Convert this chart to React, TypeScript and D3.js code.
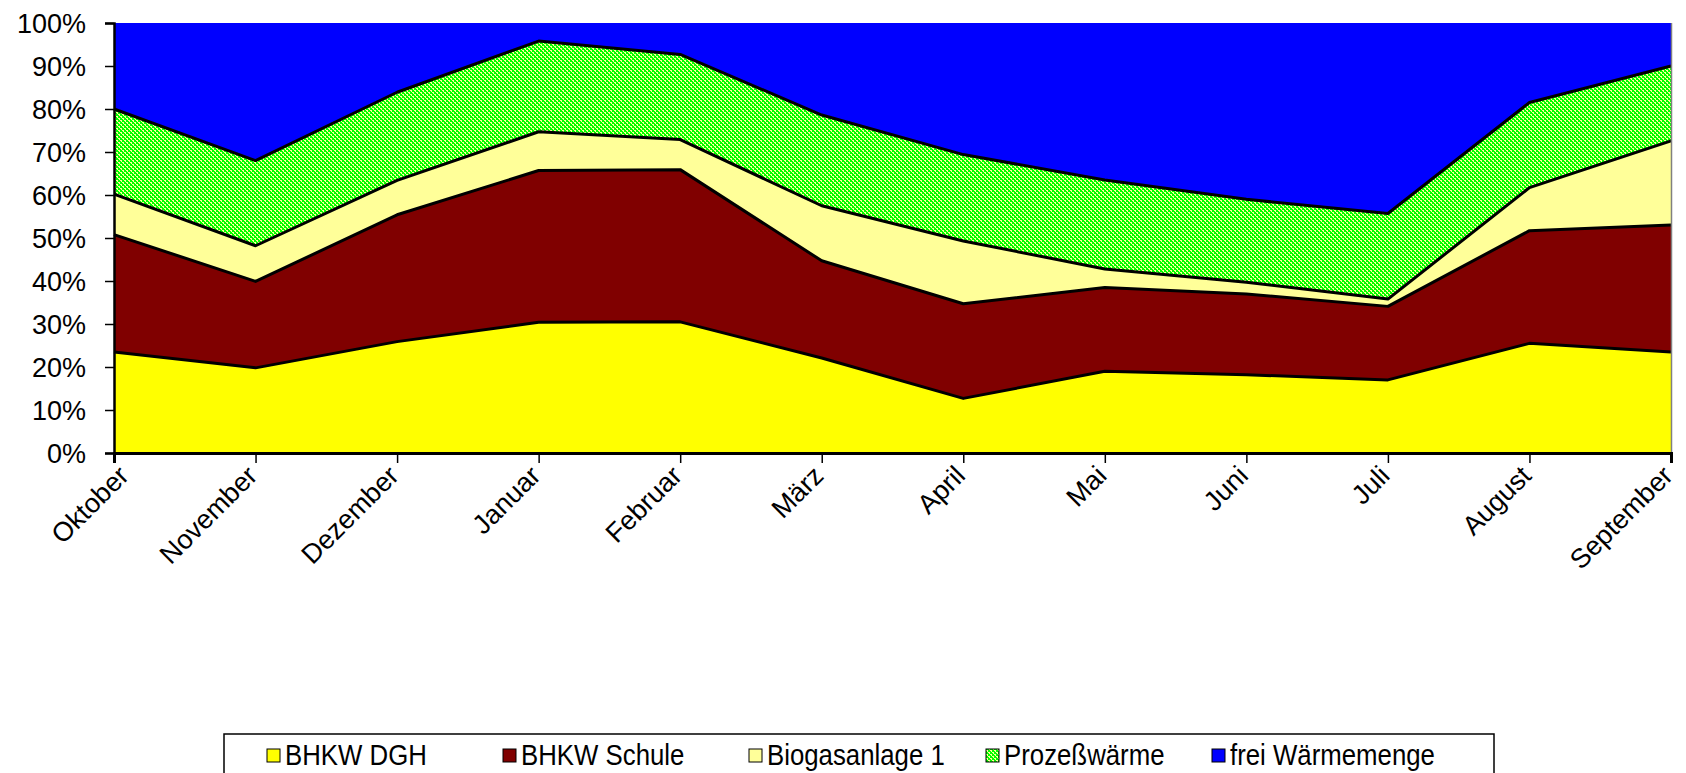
import React, { useEffect, useRef } from 'react';
import * as d3 from 'd3';

// Monatswerte (Anteil an Wärmemenge in %)
const months = ['Oktober', 'November', 'Dezember', 'Januar', 'Februar', 'März', 'April', 'Mai', 'Juni', 'Juli', 'August', 'September'];
const bhkwDgh = [23.5, 19.8, 25.9, 30.4, 30.5, 22.1, 12.7, 19.0, 18.2, 17.0, 25.5, 23.5];
const bhkwSchule = [27.3, 20.1, 29.5, 35.3, 35.4, 22.6, 22.0, 19.5, 18.8, 17.1, 26.2, 29.5];
const biogas = [9.4, 8.3, 8.0, 9.0, 7.0, 12.8, 14.6, 4.3, 2.7, 1.7, 10.0, 19.6];
const prozess = [19.8, 19.8, 20.5, 21.1, 19.8, 21.1, 20.1, 20.7, 19.3, 19.9, 19.8, 17.4];
const frei = [20.0, 32.0, 16.1, 4.2, 7.3, 21.4, 30.6, 36.5, 41.0, 44.3, 18.5, 10.0];
const yTicks = [0, 10, 20, 30, 40, 50, 60, 70, 80, 90, 100];

const seriesNames = ['BHKW DGH', 'BHKW Schule', 'Biogasanlage 1', 'Prozeßwärme', 'frei Wärmemenge'];
const seriesValues = [bhkwDgh, bhkwSchule, biogas, prozess, frei];
const seriesFill = ['#ffff00', '#800000', '#ffff99', 'url(#prozess)', '#0000ff'];

export default function App() {
  const svgRef = useRef<SVGSVGElement>(null);

  useEffect(() => {
    if (!svgRef.current) return;
    const svg = d3.select(svgRef.current);
    svg.selectAll('*').remove();

    const left = 114, right = 1671, top = 23, bottom = 453;
    const font = 'Liberation Sans, Arial, sans-serif';

    // checker pattern for Prozeßwärme
    const defs = svg.append('defs');
    const pat = defs.append('pattern')
      .attr('id', 'prozess')
      .attr('patternUnits', 'userSpaceOnUse')
      .attr('width', 4).attr('height', 4);
    pat.append('rect').attr('width', 4).attr('height', 4).attr('fill', '#00ff00');
    pat.append('rect').attr('x', 0).attr('y', 0).attr('width', 2).attr('height', 1).attr('fill', '#ffff99');
    pat.append('rect').attr('x', 2).attr('y', 2).attr('width', 2).attr('height', 1).attr('fill', '#ffff99');
    pat.append('rect').attr('x', 1).attr('y', 1).attr('width', 1).attr('height', 1).attr('fill', '#ffff99');
    pat.append('rect').attr('x', 3).attr('y', 3).attr('width', 1).attr('height', 1).attr('fill', '#ffff99');

    const rows = months.map((m, i) => {
      const r: any = { month: m };
      seriesNames.forEach((s, k) => { r[s] = seriesValues[k][i]; });
      return r;
    });
    const stacked = d3.stack<any>().keys(seriesNames)(rows);

    const x = d3.scalePoint<string>().domain(months).range([left, right]);
    const y = d3.scaleLinear().domain([0, 100]).range([bottom, top]);

    const area = d3.area<any>()
      .x((d: any) => x(d.data.month) as number)
      .y0((d: any) => y(d[0]))
      .y1((d: any) => y(Math.min(d[1], 100)));

    svg.append('g').selectAll('path')
      .data(stacked)
      .enter().append('path')
      .attr('d', (d: any) => area(d))
      .attr('fill', (_d: any, i: number) => seriesFill[i]);

    const line = d3.line<any>()
      .x((d: any) => x(d.data.month) as number)
      .y((d: any) => y(d[1]));

    svg.append('g').selectAll('path')
      .data(stacked.slice(0, 4))
      .enter().append('path')
      .attr('d', (d: any) => line(d))
      .attr('fill', 'none')
      .attr('stroke', '#000')
      .attr('stroke-width', 3)
      .attr('stroke-linejoin', 'round');

    // right border
    svg.append('line')
      .attr('x1', right + 0.5).attr('x2', right + 0.5)
      .attr('y1', top).attr('y2', bottom)
      .attr('stroke', '#808080').attr('stroke-width', 1.5);

    // y axis
    const yAxis = svg.append('g').attr('transform', `translate(${left},0)`)
      .call(d3.axisLeft(y).tickValues(yTicks).tickSize(9).tickFormat((d: any) => `${d}%`));
    yAxis.select('.domain').attr('stroke', '#000').attr('stroke-width', 2.5);
    yAxis.selectAll('.tick line').attr('stroke', '#000').attr('stroke-width', 1.5);
    yAxis.selectAll('.tick text')
      .attr('x', -28)
      .attr('dy', '0.36em')
      .style('font-family', font)
      .style('font-size', '27px')
      .attr('fill', '#000');

    // x axis
    const xAxis = svg.append('g').attr('transform', `translate(0,${bottom})`)
      .call(d3.axisBottom(x).tickSize(10).tickFormat(() => ''));
    xAxis.select('.domain').attr('stroke', '#000').attr('stroke-width', 3);
    xAxis.selectAll('.tick line').attr('stroke', '#000').attr('stroke-width', 1.5);

    svg.append('g').selectAll('text')
      .data(months)
      .enter().append('text')
      .attr('transform', (d: string, i: number) => {
        const px = (x(d) as number) - 10 + (i === 0 ? 13 : 0);
        return `translate(${px},${bottom + 11}) rotate(-45)`;
      })
      .attr('text-anchor', 'end')
      .attr('dy', '0.7em')
      .style('font-family', font)
      .style('font-size', '27px')
      .attr('fill', '#000')
      .text((d: string) => d);

    // legend
    const lg = svg.append('g');
    lg.append('rect')
      .attr('x', 224).attr('y', 734).attr('width', 1270).attr('height', 60)
      .attr('fill', '#fff').attr('stroke', '#000').attr('stroke-width', 1.5);
    const legendX = [267, 503, 749, 986, 1212];
    const squeeze = 0.86;
    seriesNames.forEach((s, i) => {
      lg.append('rect')
        .attr('x', legendX[i]).attr('y', 749).attr('width', 13).attr('height', 13)
        .attr('fill', seriesFill[i]).attr('stroke', '#000').attr('stroke-width', 1);
      lg.append('text')
        .attr('transform', `translate(${legendX[i] + 18},765) scale(${squeeze},1)`)
        .style('font-family', font)
        .style('font-size', '30px')
        .attr('fill', '#000')
        .text(s);
    });
  }, []);

  return (
    <svg ref={svgRef} width={1686} height={773}
      style={{ position: 'absolute', left: 0, top: 0, background: '#fff' }} />
  );
}
